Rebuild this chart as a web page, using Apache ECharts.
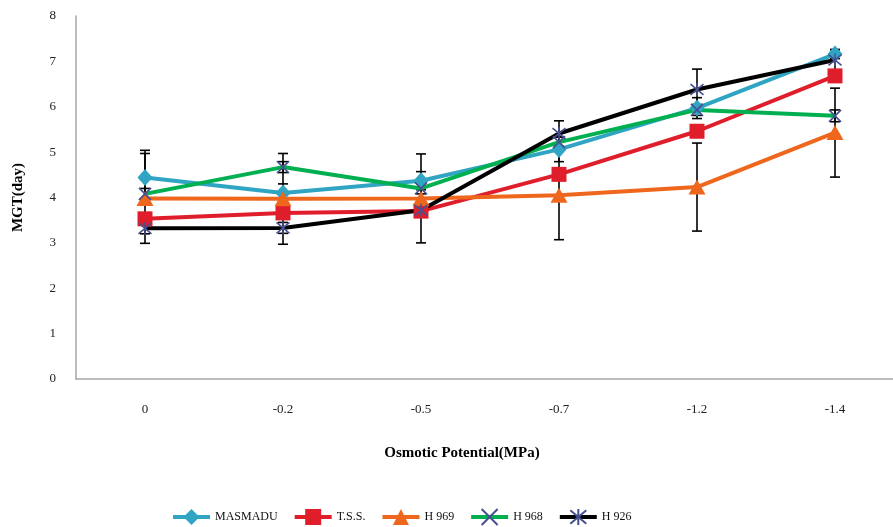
<!DOCTYPE html>
<html>
<head>
<meta charset="utf-8">
<script src="https://cdn.jsdelivr.net/npm/echarts@6/dist/echarts.min.js"></script>
<style>
html, body { margin: 0; padding: 0; background: #fff; }
#chart { width: 893px; height: 527px; }
</style>
</head>
<body>
<div id="chart"></div>
<script>
// categories on the x axis
const categories = ['0', '-0.2', '-0.5', '-0.7', '-1.2', '-1.4'];
// mean germination time per variety
const masmadu = [4.44, 4.1, 4.37, 5.06, 5.97, 7.16];
const tss = [3.53, 3.66, 3.7, 4.51, 5.46, 6.68];
const h969 = [3.98, 3.97, 3.98, 4.05, 4.23, 5.43];
const h968 = [4.08, 4.67, 4.2, 5.22, 5.93, 5.8];
const h926 = [3.32, 3.33, 3.72, 5.41, 6.38, 7.03];
// error bar half lengths
const masmaduErr = [0.6, 0.2, 0.2, 0.27, 0.23, 0.1];
const tssErr = [0.1, 0.1, 0.1, 0.1, 0.1, 0.1];
const h969Err = [0.99, 1.0, 0.98, 0.98, 0.97, 0.98];
const h968Err = [0.12, 0.12, 0.12, 0.12, 0.12, 0.13];
const h926Err = [0.12, 0.12, 0.12, 0.28, 0.45, 0.23];

const serif = '"Liberation Serif", "DejaVu Serif", serif';
const markColor = '#46508e';

// X and asterisk markers drawn as stroked paths
const xPath = 'path://M0,0L10,10M10,0L0,10';
const starPath = 'path://M0,0L10,10M10,0L0,10M5,-1L5,11';

function errData(vals, errs) {
  return vals.map((v, i) => [i, v - errs[i], v + errs[i]]);
}
const errAll = [].concat(
  errData(masmadu, masmaduErr),
  errData(tss, tssErr),
  errData(h969, h969Err),
  errData(h968, h968Err),
  errData(h926, h926Err)
);

function lineSeries(name, data, color, symbol, size, markStroke) {
  const s = {
    name: name,
    type: 'line',
    data: data,
    z: 3,
    symbol: symbol,
    symbolSize: size,
    showAllSymbol: true,
    lineStyle: { color: color, width: 4 },
    itemStyle: { color: color, opacity: 1 }
  };
  if (markStroke) {
    s.itemStyle = { color: 'rgba(0,0,0,0)', borderColor: markColor, borderWidth: 1.6, opacity: 1 };
  }
  return s;
}

const myChart = echarts.init(document.getElementById('chart'));
const option = {
  animation: false,
  backgroundColor: '#fff',
  textStyle: { fontFamily: serif },
  grid: { left: 76, top: 16, bottom: 148, width: 828, outerBoundsMode: 'none', containLabel: false },
  legend: {
    left: 166,
    top: 503,
    itemWidth: 37,
    itemHeight: 20,
    itemGap: 15,
    lineStyle: { width: 4 },
    textStyle: { fontFamily: serif, fontSize: 12, color: '#111' },
    data: ['MASMADU', 'T.S.S.', 'H 969', 'H 968', 'H 926']
  },
  xAxis: {
    type: 'category',
    data: categories,
    name: 'Osmotic Potential(MPa)',
    nameLocation: 'middle',
    nameGap: 67,
    nameTextStyle: { fontFamily: serif, fontSize: 15, fontWeight: 'bold', color: '#000', padding: [0, 56, 0, 0] },
    axisLine: { lineStyle: { color: '#a6a6a6', width: 1.5 } },
    axisTick: { show: false },
    axisLabel: { margin: 24, fontSize: 13, color: '#222', fontFamily: serif }
  },
  yAxis: {
    type: 'value',
    min: 0,
    max: 8,
    interval: 1,
    name: 'MGT(day)',
    nameLocation: 'middle',
    nameGap: 50,
    nameTextStyle: { fontFamily: serif, fontSize: 15, fontWeight: 'bold', color: '#000' },
    axisLine: { show: true, lineStyle: { color: '#a6a6a6', width: 1.5 } },
    axisTick: { show: false },
    splitLine: { show: false },
    axisLabel: { margin: 20, fontSize: 13, color: '#222', fontFamily: serif }
  },
  series: [
    {
      name: 'err',
      type: 'custom',
      z: 2,
      silent: true,
      data: errAll,
      renderItem: function (params, api) {
        const x = api.coord([api.value(0), 0])[0];
        const lo = api.coord([api.value(0), api.value(1)])[1];
        const hi = api.coord([api.value(0), api.value(2)])[1];
        const style = { stroke: '#000', lineWidth: 1.6 };
        return {
          type: 'group',
          children: [
            { type: 'line', shape: { x1: x, y1: lo, x2: x, y2: hi }, style: style },
            { type: 'line', shape: { x1: x - 5, y1: lo, x2: x + 5, y2: lo }, style: style },
            { type: 'line', shape: { x1: x - 5, y1: hi, x2: x + 5, y2: hi }, style: style }
          ]
        };
      }
    },
    lineSeries('MASMADU', masmadu, '#2fa4c3', 'diamond', [15, 17]),
    lineSeries('T.S.S.', tss, '#e01e2b', 'rect', 15),
    lineSeries('H 969', h969, '#ee671c', 'triangle', [17, 15]),
    lineSeries('H 968', h968, '#00b050', xPath, 12, true),
    lineSeries('H 926', h926, '#000000', starPath, 13, true)
  ]
};
myChart.setOption(option);
window.addEventListener('resize', function () {
  myChart.resize();
});
</script>
</body>
</html>
